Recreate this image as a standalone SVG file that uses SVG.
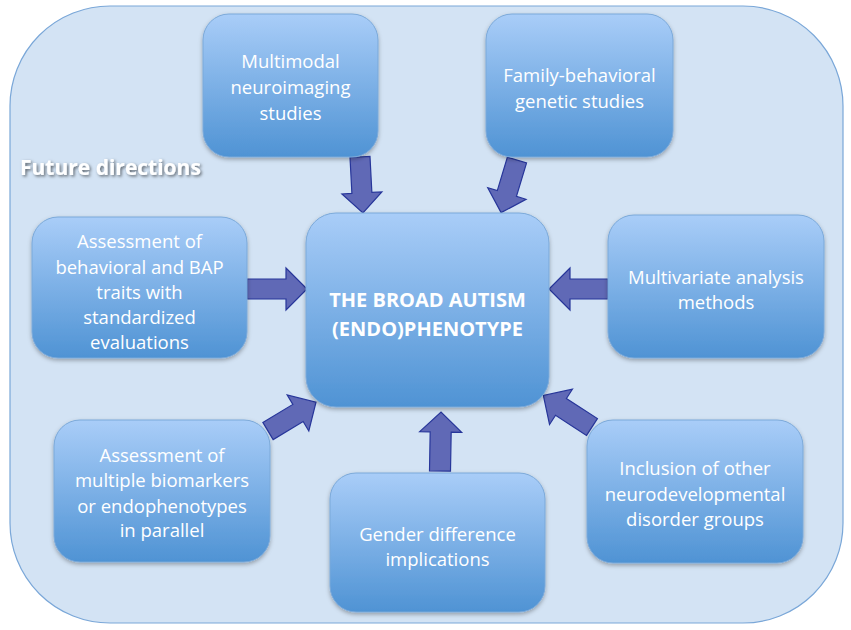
<svg xmlns="http://www.w3.org/2000/svg" width="851" height="630" viewBox="0 0 851 630">
<defs>
<linearGradient id="g" x1="0" y1="0" x2="0" y2="1">
<stop offset="0" stop-color="#a9cdf8"/>
<stop offset="1" stop-color="#4f93d4"/>
</linearGradient>
<filter id="sh" x="-10%" y="-10%" width="120%" height="125%">
<feDropShadow dx="0" dy="2" stdDeviation="2" flood-color="#000" flood-opacity="0.3"/>
</filter>
<filter id="tsh" x="-10%" y="-30%" width="120%" height="160%">
<feDropShadow dx="1.5" dy="1.5" stdDeviation="1.5" flood-color="#000" flood-opacity="0.55"/>
</filter>
</defs>
<style>
.box{fill:url(#g);stroke:#7ba9d9;stroke-width:1;filter:url(#sh)}
.t{font-family:"Open Sans","Liberation Sans",sans-serif;font-size:18.5px;fill:#fff;text-anchor:middle}
.b{font-family:"Open Sans","Liberation Sans",sans-serif;font-size:20px;font-weight:bold;fill:#fff;text-anchor:middle}
.a{fill:#6069b6;stroke:#27369a;stroke-width:1.2;stroke-linejoin:miter}
</style>
<rect x="10" y="6" width="833" height="617" rx="100" ry="100" fill="#d3e3f4" stroke="#7aa7d8" stroke-width="1.2"/>
<text x="20" y="175" font-family="'Open Sans','Liberation Sans',sans-serif" font-size="21" font-weight="bold" fill="#fff" filter="url(#tsh)">Future directions</text>

<g id="connectors">
<path class="a" transform="translate(360,157) rotate(87)" d="M0,-10 L36,-10 L36,-20 L56,0 L36,20 L36,10 L0,10 Z"/>
<path class="a" transform="translate(517,160) rotate(106.8)" d="M0,-10 L35,-10 L35,-20 L55,0 L35,20 L35,10 L0,10 Z"/>
<path class="a" transform="translate(247,289) rotate(0)" d="M0,-10 L39,-10 L39,-21 L60,0 L39,21 L39,10 L0,10 Z"/>
<path class="a" transform="translate(608,289) rotate(180)" d="M0,-10 L38,-10 L38,-21 L59,0 L38,21 L38,10 L0,10 Z"/>
<path class="a" transform="translate(440,471) rotate(-89)" d="M0,-10.5 L39,-10.5 L39,-21 L59,0 L39,21 L39,10.5 L0,10.5 Z"/>
<path class="a" transform="translate(268,431) rotate(-31)" d="M0,-10 L35,-10 L35,-21 L56,0 L35,21 L35,10 L0,10 Z"/>
<path class="a" transform="translate(592,427) rotate(-147)" d="M0,-10 L37,-10 L37,-21 L58,0 L37,21 L37,10 L0,10 Z"/>
</g>

<g id="center">
<rect class="box" x="306" y="213" width="243" height="194" rx="30"/>
<text class="b" x="427.5" y="307">THE BROAD AUTISM</text>
<text class="b" x="427.5" y="336">(ENDO)PHENOTYPE</text>
</g>
<g id="neuroimaging">
<rect class="box" x="203" y="14" width="175" height="143" rx="26"/>
<text class="t" x="290.5" y="68">Multimodal</text>
<text class="t" x="290.5" y="94">neuroimaging</text>
<text class="t" x="290.5" y="120">studies</text>
</g>
<g id="family">
<rect class="box" x="486" y="14" width="187" height="143" rx="26"/>
<text class="t" x="579.5" y="82">Family-behavioral</text>
<text class="t" x="579.5" y="108">genetic studies</text>
</g>
<g id="behavioral">
<rect class="box" x="32" y="217" width="215" height="141" rx="26"/>
<text class="t" x="139.5" y="248">Assessment of</text>
<text class="t" x="139.5" y="274">behavioral and BAP</text>
<text class="t" x="139.5" y="299">traits with</text>
<text class="t" x="139.5" y="324">standardized</text>
<text class="t" x="139.5" y="349">evaluations</text>
</g>
<g id="multivariate">
<rect class="box" x="608" y="215" width="216" height="143" rx="26"/>
<text class="t" x="716" y="284">Multivariate analysis</text>
<text class="t" x="716" y="309">methods</text>
</g>
<g id="biomarkers">
<rect class="box" x="54" y="420" width="216" height="142" rx="26"/>
<text class="t" x="162" y="462">Assessment of</text>
<text class="t" x="162" y="487">multiple biomarkers</text>
<text class="t" x="162" y="513">or endophenotypes</text>
<text class="t" x="162" y="537">in parallel</text>
</g>
<g id="gender">
<rect class="box" x="330" y="473" width="215" height="139" rx="26"/>
<text class="t" x="437.5" y="541">Gender difference</text>
<text class="t" x="437.5" y="566">implications</text>
</g>
<g id="inclusion">
<rect class="box" x="587" y="420" width="216" height="143" rx="26"/>
<text class="t" x="695" y="475">Inclusion of other</text>
<text class="t" x="695" y="501">neurodevelopmental</text>
<text class="t" x="695" y="526">disorder groups</text>
</g>
</svg>
